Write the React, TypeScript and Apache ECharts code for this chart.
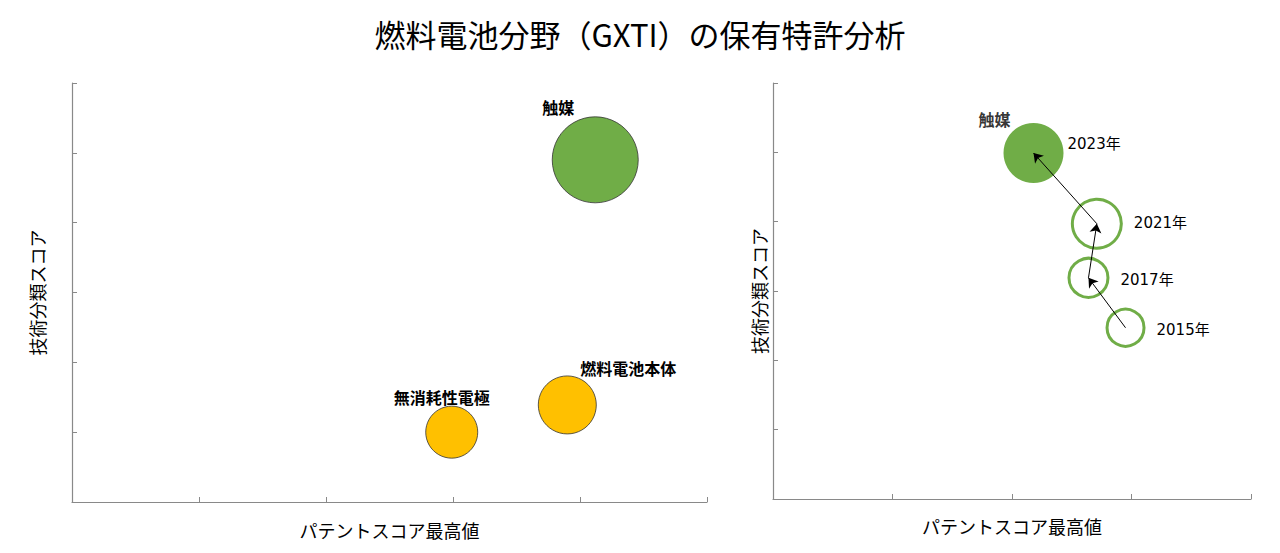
import React, { useEffect, useRef } from 'react';
import * as echarts from 'echarts';

const TITLE = '燃料電池分野（GXTI）の保有特許分析';
const X_NAME = 'パテントスコア最高値';
const Y_NAME = '技術分類スコア';

// left: technology fields
const leftNames = ['触媒', '燃料電池本体', '無消耗性電極'];
const leftX = [4.12, 3.9, 2.99];
const leftY = [4.9, 1.39, 1.0];
const leftSize = [86, 58, 52];

// right: 触媒 over time
const yearNames = ['2015年', '2017年', '2021年', '2023年'];
const yearX = [2.95, 2.64, 2.71, 2.18];
const yearY = [2.47, 3.19, 3.97, 4.99];
const yearSize = [37, 39, 49, 60];

const FONT = "'Noto Sans CJK JP', 'Noto Sans', sans-serif";
const NUM_FONT = "'DejaVu Sans', 'Noto Sans CJK JP', sans-serif";
const GREEN = '#70AD47';
const YELLOW = '#FFC000';
const AXIS = '#898989';

const axisBase = (extra: any) => ({
  axisLine: { show: true, onZero: false, lineStyle: { color: AXIS, width: 1.2 } },
  axisTick: { show: true, inside: true, length: 5, lineStyle: { color: AXIS } },
  axisLabel: { show: false },
  splitLine: { show: false },
  nameLocation: 'middle',
  nameTextStyle: { fontFamily: FONT, fontSize: 18, color: '#000' },
  ...extra,
});

export default function App() {
  const ref = useRef<HTMLDivElement>(null);

  useEffect(() => {
    if (!ref.current) return;
    const chart = echarts.init(ref.current, undefined, { renderer: 'svg' });

    const leftOffsets: Record<string, number[]> = {
      '触媒': [-37, -53],
      '燃料電池本体': [61, -37],
      '無消耗性電極': [-10, -35],
    };
    const leftColors: Record<string, string> = {
      '触媒': GREEN,
      '燃料電池本体': YELLOW,
      '無消耗性電極': YELLOW,
    };

    const leftData = leftNames.map((n, i) => ({
      name: n,
      value: [leftX[i], leftY[i], leftSize[i]],
      itemStyle: { color: leftColors[n] },
      label: { offset: leftOffsets[n] },
    }));

    const yearLabel: Record<string, any> = {
      '2015年': { distance: 11, offset: [0, 2] },
      '2017年': { distance: 11, offset: [0, 2] },
      '2021年': { distance: 11, offset: [0, -1] },
      '2023年': { distance: 4, offset: [0, -9] },
    };

    const yearData = yearNames.map((n, i) => {
      const last = i === yearNames.length - 1;
      return {
        name: n,
        value: [yearX[i], yearY[i], yearSize[i]],
        itemStyle: last
          ? { color: GREEN, borderWidth: 0 }
          : { color: 'rgba(255,255,255,0)', borderColor: GREEN, borderWidth: 3 },
        label: yearLabel[n],
      };
    });

    const arrows = yearNames.slice(1).map((_, i) => ({
      coords: [
        [yearX[i], yearY[i]],
        [yearX[i + 1], yearY[i + 1]],
      ],
    }));

    const li = yearNames.length - 1;

    const option = {
      animation: false,
      backgroundColor: '#fff',
      textStyle: { fontFamily: FONT },
      title: {
        text: TITLE,
        left: 'center',
        top: 13,
        textStyle: { fontFamily: FONT, fontSize: 31, fontWeight: 'normal', color: '#000' },
      },
      grid: [
        { left: 72, top: 83, width: 635, height: 419 },
        { left: 773, top: 83, width: 478, height: 416 },
      ],
      xAxis: [
        axisBase({ gridIndex: 0, type: 'value', min: 0, max: 5, interval: 1, name: X_NAME, nameGap: 19 }),
        axisBase({ gridIndex: 1, type: 'value', min: 0, max: 4, interval: 1, name: X_NAME, nameGap: 18 }),
      ],
      yAxis: [
        axisBase({ gridIndex: 0, type: 'value', min: 0, max: 6, interval: 1, name: Y_NAME, nameGap: 26 }),
        axisBase({ gridIndex: 1, type: 'value', min: 0, max: 6, interval: 1, name: Y_NAME, nameGap: 5 }),
      ],
      series: [
        {
          type: 'scatter',
          xAxisIndex: 0,
          yAxisIndex: 0,
          data: leftData,
          symbolSize: (v: number[]) => v[2],
          itemStyle: { borderColor: '#333', borderWidth: 0.8, opacity: 1 },
          label: {
            show: true,
            position: 'inside',
            formatter: '{b}',
            fontFamily: FONT,
            fontSize: 16,
            fontWeight: 'bold',
            color: '#000',
          },
        },
        {
          type: 'scatter',
          xAxisIndex: 1,
          yAxisIndex: 1,
          data: yearData,
          symbolSize: (v: number[]) => v[2],
          itemStyle: { opacity: 1 },
          label: {
            show: true,
            position: 'right',
            formatter: '{b}',
            fontFamily: NUM_FONT,
            fontSize: 15,
            color: '#000',
          },
          z: 2,
        },
        {
          type: 'scatter',
          xAxisIndex: 1,
          yAxisIndex: 1,
          data: [{ name: '触媒', value: [yearX[li], yearY[li]] }],
          symbolSize: 0,
          label: {
            show: true,
            position: 'inside',
            offset: [-39, -34],
            formatter: '{b}',
            fontFamily: FONT,
            fontSize: 16,
            fontWeight: 'bold',
            color: '#000',
          },
          z: 4,
        },
        {
          type: 'lines',
          coordinateSystem: 'cartesian2d',
          xAxisIndex: 1,
          yAxisIndex: 1,
          data: arrows,
          symbol: ['none', 'arrow'],
          symbolSize: 9,
          lineStyle: { color: '#000', width: 1, opacity: 1 },
          z: 5,
        },
      ],
    };

    chart.setOption(option);
    return () => chart.dispose();
  }, []);

  return (
    <div
      ref={ref}
      style={{ position: 'fixed', left: 0, top: 0, width: 1280, height: 553, background: '#fff' }}
    />
  );
}
